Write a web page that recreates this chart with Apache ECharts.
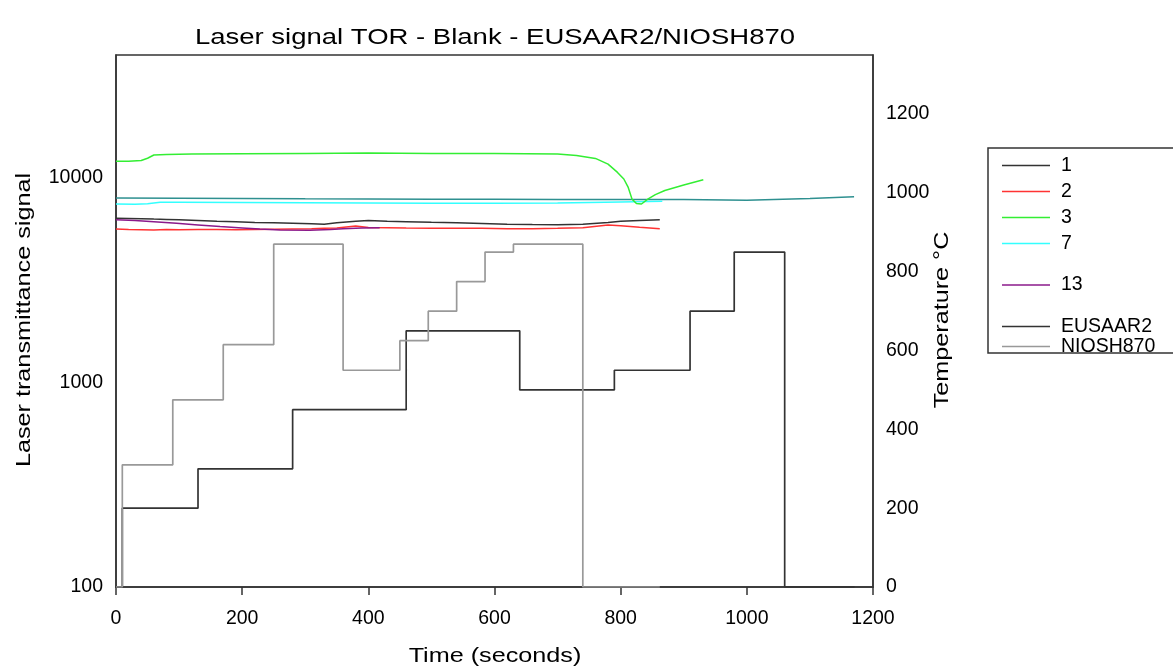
<!DOCTYPE html>
<html>
<head>
<meta charset="utf-8">
<script src="https://cdn.jsdelivr.net/npm/echarts@6/dist/echarts.min.js"></script>
<style>html,body{margin:0;padding:0;background:#fff}#c{width:1173px;height:671px}</style>
</head>
<body>
<div id="c"></div>
<script>
// ---- data ----
var xTicks = [0, 200, 400, 600, 800, 1000, 1200];
var leftTickLabels = [100, 1000, 10000];
var rightTickLabels = [0, 200, 400, 600, 800, 1000, 1200];

var t1 = [0,20,40,60,80,100,130,160,190,220,250,280,310,330,350,380,400,430,460,500,540,580,620,660,700,740,780,800,830,862];
var v1 = [6370,6350,6330,6300,6280,6250,6200,6150,6110,6070,6050,6020,5980,5950,6050,6150,6200,6150,6120,6080,6050,6000,5950,5930,5920,5950,6070,6150,6200,6250];

var t2 = [0,20,40,60,80,100,130,160,190,220,250,280,310,330,350,380,400,430,460,500,540,580,620,660,700,740,780,800,830,862];
var v2 = [5630,5600,5590,5580,5600,5590,5600,5610,5590,5600,5620,5640,5660,5680,5700,5830,5740,5720,5700,5690,5680,5680,5660,5660,5680,5720,5890,5850,5750,5660];

var t3 = [0,20,40,50,60,80,120,200,300,400,500,600,650,700,730,760,780,795,805,812,818,825,833,843,855,870,900,931];
var v3 = [12080,12100,12200,12500,12970,13050,13100,13150,13200,13250,13200,13200,13150,13100,12900,12480,11700,10660,9900,9000,7890,7510,7470,7890,8300,8700,9250,9820];

var tTeal = [0,100,200,300,400,500,600,700,800,900,1000,1100,1170];
var vTeal = [8000,7980,7950,7920,7900,7880,7880,7860,7850,7850,7800,7950,8100];

var t7 = [0,30,50,70,100,200,300,400,500,600,700,800,866];
var v7 = [7470,7450,7500,7610,7620,7600,7580,7560,7540,7530,7560,7650,7700];

var t13 = [0,30,60,96,130,165,200,228,260,307,340,360,390,418];
var v13 = [6250,6200,6120,6010,5900,5790,5700,5630,5580,5550,5600,5660,5700,5720];

var tEusaar = [0,10,130,280,460,640,790,910,980,1060,1171];
var vEusaar = [0,200,300,450,650,500,550,700,850,0,0];

var tNiosh = [0,10,90,170,250,360,450,495,540,585,630,740,862];
var vNiosh = [0,310,475,615,870,550,625,700,775,850,870,0,0];

function pairs(t, v) { return t.map(function (x, i) { return [x, v[i]]; }); }

var FONT = '"Liberation Sans", Arial, sans-serif';
var chart = echarts.init(document.getElementById('c'), null, {renderer: 'canvas'});

function sig(name, t, v, color) {
  return {name: name, type: 'line', yAxisIndex: 0, data: pairs(t, v), symbol: 'none', showSymbol: false,
    lineStyle: {color: color, width: 1.5}, itemStyle: {color: color}, silent: true};
}
function temp(name, t, v, color) {
  return {name: name, type: 'line', yAxisIndex: 1, step: 'end', data: pairs(t, v), symbol: 'none', showSymbol: false,
    lineStyle: {color: color, width: 1.7}, itemStyle: {color: color}, silent: true};
}

var legendCommon = {
  orient: 'vertical', left: 1002, itemWidth: 48, itemHeight: 1.6, icon: 'rect',
  itemStyle: {borderWidth: 0},
  textStyle: {fontFamily: FONT, fontSize: 19.5, color: '#000', padding: [0, 0, 0, 6]},
  selectedMode: false, padding: 0
};

function txt(text, x, y, rot, size, sx) {
  return {type: 'text', x: x, y: y, rotation: rot, scaleX: sx, silent: true,
    style: {text: text, fontFamily: FONT, fontSize: size, fill: '#000', align: 'center', verticalAlign: 'middle'}};
}

chart.setOption({
  animation: false,
  textStyle: {fontFamily: FONT},
  grid: {left: 116, right: 300, top: 55, bottom: 84, show: true, borderColor: '#333', borderWidth: 1.5, backgroundColor: 'transparent'},
  legend: [
    Object.assign({}, legendCommon, {top: 155.5, itemGap: 6, data: ['1', '2', '3', '7']}),
    Object.assign({}, legendCommon, {top: 275, data: ['13']}),
    Object.assign({}, legendCommon, {top: 316.5, itemGap: 0, data: ['EUSAAR2', 'NIOSH870']})
  ],
  graphic: [
    {type: 'rect', shape: {x: 988, y: 148, width: 200, height: 205},
      style: {fill: 'none', stroke: '#333', lineWidth: 1.5}, silent: true},
    txt('Laser signal TOR - Blank - EUSAAR2/NIOSH870', 495, 38, 0, 22, 1.25),
    txt('Laser transmittance signal', 24, 320, Math.PI / 2, 21, 1.2),
    txt('Temperature °C', 942, 320, Math.PI / 2, 21, 1.2),
    txt('Time (seconds)', 495, 656, 0, 21, 1.2)
  ],
  xAxis: {
    type: 'value', min: xTicks[0], max: xTicks[xTicks.length - 1], interval: 200,
    axisLine: {show: true, lineStyle: {color: '#333', width: 1.5}},
    axisTick: {show: true, inside: false, length: 8, lineStyle: {color: '#333', width: 1.5}},
    axisLabel: {fontFamily: FONT, fontSize: 19.5, color: '#000', margin: 22,
      formatter: function (v) { return xTicks.indexOf(v) >= 0 ? String(v) : ''; }},
    splitLine: {show: false}
  },
  yAxis: [{
    type: 'log', logBase: 10, min: 100, max: 40000, position: 'left',
    axisLine: {show: true, lineStyle: {color: '#333', width: 1.5}},
    axisTick: {show: false},
    axisLabel: {fontFamily: FONT, fontSize: 19.5, color: '#000', margin: 13, showMaxLabel: false,
      formatter: function (v) { return leftTickLabels.indexOf(Math.round(v)) >= 0 ? String(Math.round(v)) : ''; }},
    splitLine: {show: false}, alignTicks: false
  }, {
    type: 'value', min: 0, max: 1350, interval: 200, position: 'right',
    axisLine: {show: true, lineStyle: {color: '#333', width: 1.5}},
    axisTick: {show: false},
    axisLabel: {fontFamily: FONT, fontSize: 19.5, color: '#000', margin: 13, showMaxLabel: false,
      formatter: function (v) { return rightTickLabels.indexOf(v) >= 0 ? String(v) : ''; }},
    splitLine: {show: false}, alignTicks: false
  }],
  series: [
    temp('EUSAAR2', tEusaar, vEusaar, '#333333'),
    temp('NIOSH870', tNiosh, vNiosh, '#999999'),
    sig('teal', tTeal, vTeal, '#2e9090'),
    sig('7', t7, v7, '#33ffff'),
    sig('1', t1, v1, '#333333'),
    sig('2', t2, v2, '#ff3333'),
    sig('13', t13, v13, '#8b1a8b'),
    sig('3', t3, v3, '#33ee33')
  ]
});
</script>
</body>
</html>
